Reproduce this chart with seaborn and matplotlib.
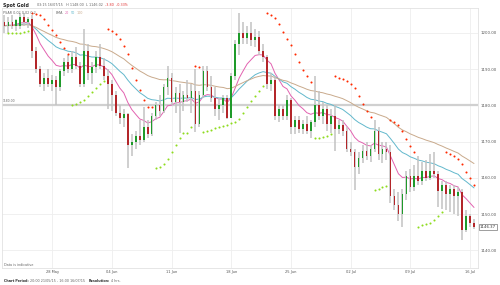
import numpy as np
import pandas as pd
import matplotlib
matplotlib.use("Agg")
import matplotlib.pyplot as plt
import seaborn as sns

# ---------------- data (Spot Gold candles) ----------------
opens = [1203, 1202, 1203, 1202, 1202, 1204.5, 1203, 1204, 1195, 1190,
         1186, 1187.5, 1186, 1187, 1185, 1189.5, 1192, 1190, 1193.5, 1191,
         1186, 1195, 1189, 1190.5, 1193.5, 1191, 1188, 1186, 1183, 1178,
         1176.5, 1177.5, 1169, 1170, 1171.5, 1170.5, 1174, 1172, 1177, 1180,
         1178.5, 1185, 1187.5, 1181, 1183.5, 1181, 1183, 1182, 1184, 1175,
         1183, 1189.5, 1185, 1182, 1179, 1180, 1182, 1176.5, 1188, 1197,
         1200, 1198.5, 1200, 1198, 1199, 1195, 1193.5, 1186, 1187, 1177,
         1179, 1177, 1181.5, 1174, 1176, 1173.5, 1175, 1173, 1175.5, 1180,
         1177, 1179, 1175, 1177, 1173.5, 1174.5, 1173, 1168, 1167, 1163,
         1165.5, 1167.5, 1166, 1168, 1173, 1166.5, 1168, 1167, 1155, 1152.5,
         1150, 1155.5, 1160.5, 1157.5, 1160.5, 1159, 1162, 1160, 1162, 1161,
         1156.5, 1158, 1155.5, 1157, 1155, 1156, 1145.5, 1149.5, 1147.5]
highs = [1205, 1204.5, 1205, 1204, 1205.5, 1205.5, 1204.5, 1205, 1196, 1191,
         1189, 1190, 1188.5, 1188, 1190, 1193, 1194, 1195, 1196, 1192,
         1201, 1197, 1192, 1195, 1197, 1193, 1190, 1187, 1184, 1180,
         1179, 1178, 1172, 1173, 1176, 1179.5, 1176, 1178, 1181, 1183,
         1186, 1191, 1189, 1185, 1186, 1184, 1187, 1186, 1190, 1184,
         1191, 1191, 1188, 1185, 1182, 1183, 1183, 1189, 1198, 1205.5,
         1203, 1202, 1203, 1201, 1200.5, 1197, 1194, 1189, 1188, 1180,
         1180, 1183, 1182, 1177, 1177, 1176, 1177, 1176, 1188, 1184,
         1181, 1180, 1179, 1180, 1176, 1176, 1174, 1170, 1168, 1167,
         1169, 1170, 1169, 1176, 1174, 1170, 1170, 1169, 1157, 1156,
         1157, 1162, 1162.5, 1163.5, 1166, 1164.5, 1165, 1166.5, 1167, 1162,
         1159, 1159, 1158, 1158, 1157.5, 1157, 1151, 1150, 1148.5]
lows = [1200, 1200, 1201, 1200.5, 1201, 1202, 1201.5, 1193, 1189, 1185,
        1184, 1185, 1184, 1180, 1184, 1188, 1189, 1189, 1190, 1185,
        1185, 1187, 1186, 1189, 1190, 1187, 1179, 1178.5, 1177, 1175,
        1174, 1162.7, 1166, 1168, 1169, 1170, 1171, 1171.5, 1176, 1177,
        1178, 1183, 1180, 1178, 1172.5, 1178.5, 1181, 1178, 1172.6, 1174,
        1182, 1184, 1181, 1177, 1176, 1178, 1176.2, 1176.4, 1187, 1194,
        1197, 1197, 1196.5, 1196, 1194, 1192, 1184.5, 1184, 1176, 1175.5,
        1176, 1176, 1172, 1172, 1172.5, 1172, 1172, 1171, 1174, 1176,
        1175, 1173, 1172.5, 1167.5, 1172, 1171.5, 1167, 1166, 1156.6, 1161,
        1164, 1165, 1164.5, 1167, 1165, 1164, 1165, 1153, 1151, 1148,
        1146.5, 1154, 1156, 1156.5, 1158, 1158, 1159, 1159.5, 1160, 1152,
        1151.5, 1151, 1150.5, 1150, 1149.5, 1142.8, 1145, 1146.5, 1146]
closes = [1202, 1203, 1202, 1203.5, 1204.5, 1203, 1204, 1195, 1190, 1186,
          1187.5, 1186, 1187, 1185, 1189.5, 1192, 1190, 1193.5, 1191, 1186,
          1195, 1189, 1190.5, 1193.5, 1191, 1188, 1186, 1183, 1178, 1176.5,
          1177.5, 1169, 1170, 1171.5, 1170.5, 1174, 1172, 1177, 1180, 1178.5,
          1185, 1187.5, 1181, 1183.5, 1181, 1183, 1182, 1184, 1175, 1183,
          1189.5, 1185, 1182, 1179, 1180, 1182, 1176.5, 1188, 1197, 1200,
          1198.5, 1200, 1198, 1199, 1195, 1193.5, 1186, 1187, 1177, 1179,
          1177, 1181.5, 1174, 1176, 1173.5, 1175, 1173, 1175.5, 1180, 1177,
          1179, 1175, 1177, 1173.5, 1174.5, 1173, 1168, 1167, 1163, 1165.5,
          1167.5, 1166, 1168, 1173, 1166.5, 1168, 1167, 1155, 1152.5, 1150,
          1155.5, 1160.5, 1157.5, 1160.5, 1159, 1162, 1160, 1162, 1161, 1156.5,
          1158, 1155.5, 1157, 1155, 1156, 1145.5, 1149.5, 1147.5, 1146.37]

date_labels = ["28 May", "04 Jun", "11 Jun", "18 Jun", "25 Jun", "02 Jul", "09 Jul", "16 Jul"]
date_index = [12, 27, 42, 57, 72, 87, 102, 117]
price_ticks = [1140, 1150, 1160, 1170, 1180, 1190, 1200]
ema_periods = [20, 50, 100]          # periods in 4-hour bars
bars_per_candle = 2                  # each drawn candle spans two 4-hour bars
ema_colors = ["#e262b0", "#62b8cc", "#c9aa8c"]
ref_level = 1180.0
last_price = 1146.37

# ---------------- frame ----------------
df = pd.DataFrame({"open": opens, "high": highs, "low": lows, "close": closes})
df["idx"] = np.arange(len(df))
for n in ema_periods:
    a4 = 2.0 / (n + 1)
    a = 1 - (1 - a4) ** bars_per_candle
    df[f"ema{n}"] = df["close"].ewm(alpha=a, adjust=False).mean()


def psar(high, low, step=0.02, max_af=0.2):
    n = len(high)
    sar = np.full(n, np.nan)
    up_arr = np.zeros(n, dtype=bool)
    up = True
    af = step
    ep = high[0]
    sar[0] = low[0]
    up_arr[0] = True
    for i in range(1, n):
        prev = sar[i - 1]
        s = prev + af * (ep - prev)
        if up:
            s = min(s, low[i - 1], low[max(i - 2, 0)])
            if low[i] < s:
                up = False
                s = ep
                ep = low[i]
                af = step
            elif high[i] > ep:
                ep = high[i]
                af = min(af + step, max_af)
        else:
            s = max(s, high[i - 1], high[max(i - 2, 0)])
            if high[i] > s:
                up = True
                s = ep
                ep = high[i]
                af = step
            elif low[i] < ep:
                ep = low[i]
                af = min(af + step, max_af)
        sar[i] = s
        up_arr[i] = up
    return sar, up_arr


df["sar"], df["sar_up"] = psar(df["high"].values, df["low"].values)

# ---------------- plot ----------------
sns.set_theme(style="white")
plt.rcParams["font.family"] = ["DejaVu Sans"]

W, H = 500, 285
fig = plt.figure(figsize=(W / 100, H / 100), dpi=100)
ax = fig.add_axes([2 / W, 1 - 268 / H, 476 / W, 260 / H])
ax.set_facecolor("white")

# grid
for p in price_ticks:
    ax.axhline(p, color="#eeeeee", lw=0.6, zorder=0)
for d in date_index:
    ax.axvline(d, color="#eeeeee", lw=0.6, zorder=0)
ax.axhline(ref_level, color="#d0d0d0", lw=1.6, zorder=0.5)

# EMAs
for n, c in zip(ema_periods, ema_colors):
    sns.lineplot(data=df, x="idx", y=f"ema{n}", color=c, lw=0.7, ax=ax, zorder=2)

# candles
up = df["close"] >= df["open"]
ax.vlines(df["idx"], df["low"], df["high"], color="#c2c2c2", lw=1.1, zorder=3)
body_bottom = np.minimum(df["open"], df["close"])
body_h = np.maximum(np.abs(df["close"] - df["open"]), 0.25)
ax.bar(df["idx"], body_h, bottom=body_bottom, width=0.42,
       color=np.where(up, "#1f9a2a", "#b3262a"), edgecolor="none", zorder=4)

# PSAR dots
sar_df = df.iloc[1:]
sns.scatterplot(data=sar_df[sar_df["sar_up"]], x="idx", y="sar", color="#8edc1e",
                s=2.2, linewidth=0, ax=ax, zorder=5)
sns.scatterplot(data=sar_df[~sar_df["sar_up"]], x="idx", y="sar", color="#ff2a00",
                s=2.2, linewidth=0, ax=ax, zorder=5)

ax.set_xlim(-0.6, 119.0)
ax.set_ylim(1135.1, 1206.9)
ax.set_xlabel("")
ax.set_ylabel("")
ax.set_xticks(date_index)
ax.set_xticklabels(date_labels, fontsize=2.6, color="#555555")
ax.yaxis.tick_right()
ax.set_yticks(price_ticks)
ax.set_yticklabels([f"{p:.2f}" for p in price_ticks], fontsize=2.8, color="#555555")
ax.tick_params(axis="both", length=0, pad=1.5)
for sp in ax.spines.values():
    sp.set_color("#e2e2e2")
    sp.set_linewidth(0.6)

renderer = fig.canvas.get_renderer()


def chain(x, y, parts):
    """Place text pieces one after another on a line (pixel coords)."""
    for s, kw, gap in parts:
        t = fig.text(x / W, 1 - y / H, s, va="center", ha="left", **kw)
        bb = t.get_window_extent(renderer)
        x = bb.x1 + gap


g = dict(color="#666666", fontsize=2.4)
# header
chain(3, 5, [("Spot Gold", dict(fontsize=3.3, fontweight="bold", color="#222222"), 8),
             ("03:15 16/07/15   H 1148.00  L 1146.02", g, 2),
             ("-3.80  -0.33%", dict(color="#e03030", fontsize=2.4), 0)])
chain(3, 13, [("PSAR 0.02 0.02 0.2", g, 20),
              ("EMA", g, 2),
              ("20", dict(color=ema_colors[0], fontsize=2.4), 1.5),
              ("50", dict(color=ema_colors[1], fontsize=2.4), 1.5),
              ("100", dict(color=ema_colors[2], fontsize=2.4), 0)])

# reference level label & last price box
fig.text(3 / W, 1 - 101 / H, f"{ref_level:.2f}", fontsize=2.2, color="#666666",
         va="center", ha="left")
fig.text(480 / W, 1 - 227 / H, f"{last_price:.2f}", fontsize=2.8, color="#333333",
         va="center", ha="left",
         bbox=dict(boxstyle="square,pad=0.25", fc="white", ec="#777777", lw=0.5))

# footer
fig.text(4 / W, 1 - 265 / H, "Data is indicative", fontsize=2.4, color="#666666",
         va="center", ha="left")
b = dict(fontsize=2.4, fontweight="bold", color="#333333")
chain(4, 281, [("Chart Period:", b, 1),
               ("20:00 21/05/15 - 16:00 16/07/15", g, 4),
               ("Resolution:", b, 1),
               ("4 hrs.", g, 0)])

fig.savefig("out.png", dpi=100, facecolor="white")
